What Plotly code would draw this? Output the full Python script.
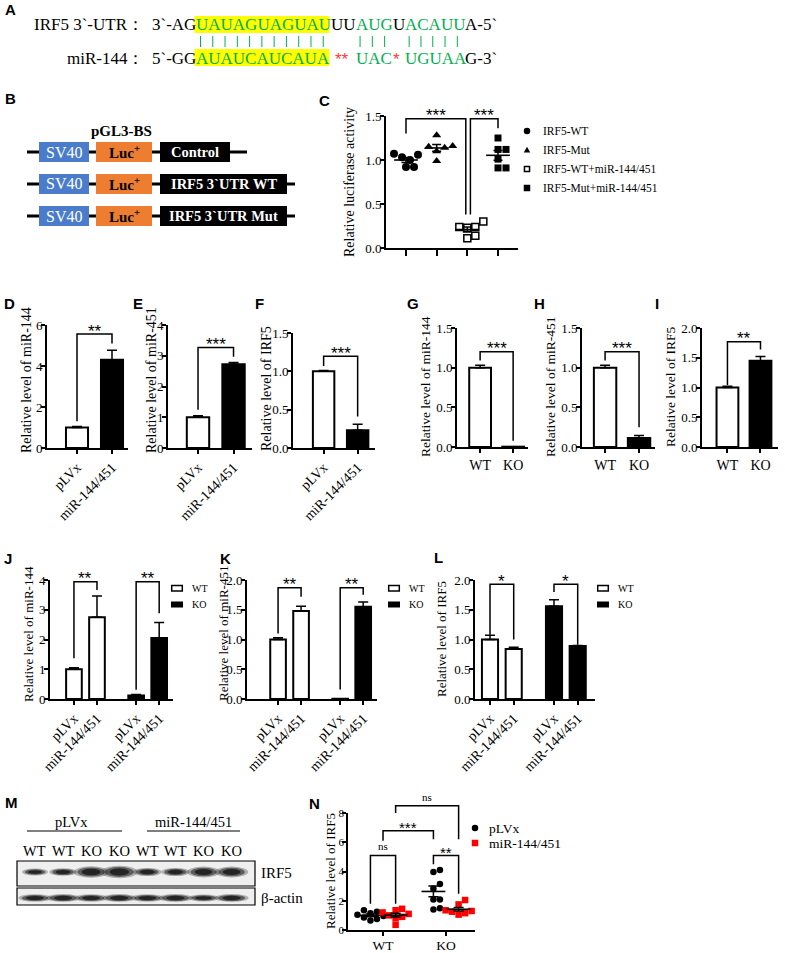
import plotly.graph_objects as go
import numpy as np

W, H = 785, 953
SERIF = "Liberation Serif"
SANS = "Liberation Sans"
GREEN = "#00B050"
RED = "#FF0000"
STAR_RED = "#FF3B3B"

# ---------------- data ----------------
# A: IRF5 3'-UTR / miR-144 pairing
utr_label = "IRF5 3`-UTR："
mir_label = "miR-144："
utr_segs = ["3`-AG", "UAUAGUAGUAU", "UU", "AUG", "U", "ACAUU", "A-5`"]
mir_segs = ["5`-GG", "AUAUCAUCAUA", "**", "UAC", "*", "UGUAA", "G-3`"]
utr_cols = ["black", GREEN, "black", GREEN, "black", GREEN, "black"]
mir_cols = ["black", GREEN, STAR_RED, GREEN, STAR_RED, GREEN, "black"]
seg_paired = [0, 1, 0, 1, 0, 1, 0]
seg_seed = [0, 1, 0, 0, 0, 0, 0]

# B: reporter constructs
construct_title = "pGL3-BS"
construct_names = ["Control", "IRF5 3`UTR WT", "IRF5 3`UTR Mut"]

# C: luciferase activity
luc_groups = ["IRF5-WT", "IRF5-Mut", "IRF5-WT+miR-144/451", "IRF5-Mut+miR-144/451"]
luc_wt = [1.03, 1.06, 1.07, 1.00, 0.92, 0.92]
luc_mut = [1.28, 1.15, 1.16, 1.14, 1.10, 0.99]
luc_wt_mir = [0.30, 0.24, 0.24, 0.23, 0.14, 0.11]
luc_mut_mir = [1.25, 1.12, 1.12, 1.01, 0.91, 0.91]

# D-F: overexpression
oe_labels = ["pLVx", "miR-144/451"]
d_mean, d_sem = [1.0, 4.3], [0.05, 0.47]
e_mean, e_sem = [1.0, 2.72], [0.05, 0.06]
f_mean, f_sem = [1.0, 0.23], [0.01, 0.08]

# G-I: knockout
ko_labels = ["WT", "KO"]
g_mean, g_sem = [1.0, 0.004], [0.03, 0.0]
h_mean, h_sem = [1.0, 0.115], [0.03, 0.03]
i_mean, i_sem = [1.0, 1.45], [0.02, 0.07]

# J-L: WT / KO x pLVx / miR-144/451
j_wt, j_wt_sem = [1.0, 2.75], [0.05, 0.71]
j_ko, j_ko_sem = [0.12, 2.05], [0.03, 0.52]
k_wt, k_wt_sem = [1.0, 1.48], [0.03, 0.08]
k_ko, k_ko_sem = [0.004, 1.55], [0.0, 0.08]
l_wt, l_wt_sem = [1.0, 0.84], [0.07, 0.03]
l_ko, l_ko_sem = [1.56, 0.89], [0.11, 0.01]

# M: western blot (relative band strength)
blot_treat = ["pLVx", "miR-144/451"]
blot_lanes = ["WT", "WT", "KO", "KO", "WT", "WT", "KO", "KO"]
irf5_band = [0.35, 0.45, 0.9, 1.0, 0.5, 0.5, 0.8, 0.8]
actin_band = [0.8, 0.85, 0.8, 0.85, 0.8, 0.85, 0.65, 0.85]

# N: IRF5 quantification
n_groups = ["WT", "KO"]
n_wt_plvx = [1.35, 1.25, 1.15, 1.05, 0.95, 0.85, 0.75, 0.65]
n_wt_mir = [1.45, 1.35, 1.2, 1.1, 1.0, 0.9, 0.8, 0.35]
n_ko_plvx = [4.1, 3.96, 3.15, 2.82, 2.08, 2.08, 1.48, 1.41]
n_ko_mir = [2.05, 1.75, 1.45, 1.35, 1.3, 1.25, 1.15, 1.05]

fig = go.Figure()

# panel boxes in pixels: x0,x1 (axis extent), yt,yb (top/bottom of y axis)
P = {
    'C': dict(x0=386, x1=518, yt=116, yb=248, xr=(-0.652, 3.652), yr=(0, 1.5), dt=0.5, fmt='.1f'),
    'D': dict(x0=47, x1=128, yt=325, yb=448, xr=(-0.857, 1.457), yr=(0, 6), dt=2, fmt='.0f'),
    'E': dict(x0=168, x1=252, yt=325, yb=448, xr=(-0.845, 1.52), yr=(0, 4), dt=1, fmt='.0f'),
    'F': dict(x0=293, x1=375, yt=333, yb=448, xr=(-0.9, 1.51), yr=(0, 1.5), dt=0.5, fmt='.1f'),
    'G': dict(x0=457, x1=528, yt=328, yb=447, xr=(-0.7, 1.45), yr=(0, 1.5), dt=0.5, fmt='.1f'),
    'H': dict(x0=582, x1=655, yt=328, yb=447, xr=(-0.68, 1.47), yr=(0, 1.5), dt=0.5, fmt='.1f'),
    'I': dict(x0=702, x1=778, yt=328, yb=447, xr=(-0.77, 1.53), yr=(0, 2.0), dt=0.5, fmt='.1f'),
    'J': dict(x0=50, x1=173, yt=580, yb=699, xr=(-1.04, 4.3), yr=(0, 4), dt=1, fmt='.0f'),
    'K': dict(x0=247, x1=377, yt=580, yb=699, xr=(-1.35, 4.3), yr=(0, 2.0), dt=0.5, fmt='.1f'),
    'L': dict(x0=475, x1=595, yt=580, yb=699, xr=(-0.633, 4.43), yr=(0, 2.0), dt=0.5, fmt='.1f'),
    'N': dict(x0=348, x1=475, yt=813, yb=930, xr=(-0.556, 1.46), yr=(0, 8), dt=2, fmt='.0f'),
    'M': dict(x0=17, x1=255, yt=861, yb=905, xr=(-0.64, 7.83), yr=(0, 44)),
}

for i, k in enumerate(P, start=1):
    c = P[k]
    c['id'] = '' if i == 1 else str(i)
    common = dict(showline=True, linecolor='black', linewidth=1.6, ticks='outside',
                  tickcolor='black', tickwidth=1.6, ticklen=4, showgrid=False,
                  zeroline=False, automargin=False, fixedrange=True,
                  tickfont=dict(family=SERIF, size=13, color='black'))
    xa = dict(common, domain=[c['x0'] / W, c['x1'] / W], range=list(c['xr']), anchor='y' + c['id'])
    ya = dict(common, domain=[1 - c['yb'] / H, 1 - c['yt'] / H], range=list(c['yr']), anchor='x' + c['id'],
              ticklabelstandoff=-4)
    if k == 'M':
        xa['visible'] = False
        ya['visible'] = False
    else:
        tv = np.arange(c['yr'][0], c['yr'][1] + c['dt'] / 2, c['dt'])
        ya['tickvals'] = tv
        ya['ticktext'] = [format(v, c['fmt']) for v in tv]
    fig.layout['xaxis' + c['id']] = xa
    fig.layout['yaxis' + c['id']] = ya


def to_px(k, xv, yv):
    c = P[k]
    x = c['x0'] + (xv - c['xr'][0]) / (c['xr'][1] - c['xr'][0]) * (c['x1'] - c['x0'])
    y = c['yb'] - (yv - c['yr'][0]) / (c['yr'][1] - c['yr'][0]) * (c['yb'] - c['yt'])
    return x, y


def text(px, py, s, size=13, color='black', family=SERIF, xanchor='center', yanchor='middle', angle=0):
    fig.add_annotation(x=px / W, y=1 - py / H, xref='paper', yref='paper', text=s, showarrow=False,
                       font=dict(family=family, size=size, color=color), xanchor=xanchor,
                       yanchor=yanchor, textangle=angle)


def rect(x0, x1, y0, y1, fill, lc=None, lw=0):
    fig.add_shape(type='rect', xref='paper', yref='paper', x0=x0 / W, x1=x1 / W, y0=1 - y1 / H,
                  y1=1 - y0 / H, fillcolor=fill, line=dict(color=lc or fill, width=lw))


def hline(x0, x1, y, lw=1.5, color='black'):
    fig.add_shape(type='line', xref='paper', yref='paper', x0=x0 / W, x1=x1 / W, y0=1 - y / H,
                  y1=1 - y / H, line=dict(color=color, width=lw))


def vline(x, y0, y1, lw=1.0, color='black'):
    fig.add_shape(type='line', xref='paper', yref='paper', x0=x / W, x1=x / W, y0=1 - y0 / H,
                  y1=1 - y1 / H, line=dict(color=color, width=lw))


def bracket(k, xa, xb, top, ya, yb, label, size=17, family=SANS, gap=3):
    ax_, ay = to_px(k, xa, ya)
    bx, by = to_px(k, xb, yb)
    _, ty = to_px(k, xa, top)
    pts = [(ax_, ay), (ax_, ty), (bx, ty), (bx, by)]
    path = 'M' + ' L'.join(f'{x / W:.5f},{1 - y / H:.5f}' for x, y in pts)
    fig.add_shape(type='path', path=path, xref='paper', yref='paper', line=dict(color='black', width=1.5))
    if family == SANS:
        text((ax_ + bx) / 2, ty - gap, label, size=size, family=SANS)
    else:
        text((ax_ + bx) / 2, ty - 1, label, size=size, family=family, yanchor='bottom')


def ytitle(px, py, s, size=14):
    text(px, py, s, size=size, angle=-90)


def bars(k, pos, mean, sem, fill, bw):
    c = P[k]
    fig.add_trace(go.Bar(
        x=pos, y=mean, width=bw,
        marker=dict(color=fill, line=dict(color='black', width=2)),
        error_y=dict(type='data', array=sem, arrayminus=[0] * len(sem), symmetric=False,
                     color='black', thickness=1.5, width=5),
        xaxis='x' + c['id'], yaxis='y' + c['id'], showlegend=False, hoverinfo='skip'))


def xticks(k, vals, labels, angle=0, size=14, ticklen=4):
    fig.layout['xaxis' + P[k]['id']].update(tickvals=vals, ticktext=labels, tickangle=angle,
                                             tickfont=dict(family=SERIF, size=size, color='black'),
                                             ticklen=ticklen)


def swarm(k, vals, d):
    c = P[k]
    ux = (c['x1'] - c['x0']) / (c['xr'][1] - c['xr'][0])
    uy = (c['yb'] - c['yt']) / (c['yr'][1] - c['yr'][0])
    steps = [0.0]
    for s in range(1, 10):
        steps += [s * d / 2, -s * d / 2]
    placed, out = [], np.zeros(len(vals))
    for i in np.argsort(vals):
        yp = vals[i] * uy
        for dx in steps:
            if all((dx - px) ** 2 + (yp - py) ** 2 >= d * d * 0.95 for px, py in placed):
                placed.append((dx, yp))
                out[i] = dx / ux
                break
    return out


def dots(k, xc, vals, symbol, size, color, d, mean_w, cap):
    c = P[k]
    lw = 1.5 if symbol.endswith('open') else 0
    fig.add_trace(go.Scatter(
        x=xc + swarm(k, vals, d), y=vals, mode='markers',
        marker=dict(symbol=symbol, size=size, color=color, line=dict(color=color, width=lw)),
        xaxis='x' + c['id'], yaxis='y' + c['id'], showlegend=False, hoverinfo='skip', cliponaxis=False))
    v = np.array(vals)
    fig.add_trace(go.Scatter(
        x=[xc], y=[v.mean()], mode='markers',
        marker=dict(symbol='line-ew', size=mean_w, color='black', line=dict(color='black', width=1.6)),
        error_y=dict(type='data', array=[v.std(ddof=1) / np.sqrt(len(v))], color='black',
                     thickness=1.5, width=cap),
        xaxis='x' + c['id'], yaxis='y' + c['id'], showlegend=False, hoverinfo='skip'))


def marker_shape(px, py, kind, s, color='black'):
    r = s / 2
    if kind == 'circle':
        fig.add_shape(type='circle', xref='paper', yref='paper', x0=(px - r) / W, x1=(px + r) / W,
                      y0=1 - (py + r) / H, y1=1 - (py - r) / H, fillcolor=color, line=dict(width=0))
    elif kind == 'triangle':
        pts = [(px - r, py + r * 0.8), (px + r, py + r * 0.8), (px, py - r)]
        path = 'M' + ' L'.join(f'{x / W:.5f},{1 - y / H:.5f}' for x, y in pts) + ' Z'
        fig.add_shape(type='path', path=path, xref='paper', yref='paper', fillcolor=color, line=dict(width=0))
    elif kind == 'square-open':
        rect(px - r + 0.7, px + r - 0.7, py - r + 0.7, py + r - 0.7, 'white', color, 1.5)
    else:
        rect(px - r, px + r, py - r, py + r, color)


# ---------------- panel letters ----------------
for lab, (lx, ly) in {'A': (3, 9), 'B': (3, 98), 'C': (317, 100), 'D': (2, 303), 'E': (131, 303),
                      'F': (253, 303), 'G': (405, 303), 'H': (532, 303), 'I': (653, 303),
                      'J': (2, 558), 'K': (218, 558), 'L': (432, 557), 'M': (3, 802),
                      'N': (307, 803)}.items():
    text(lx, ly, '<b>' + lab + '</b>', size=15, family=SANS, xanchor='left')

# ---------------- A ----------------
TW = {'U': 722, 'A': 722, 'G': 722, 'C': 667, '3': 500, '5': 500, '`': 333, '-': 333, '*': 500}
A_FS, A_X, A_Y1, A_Y2 = 17, 150, 25, 58


def tw(s):
    return sum(TW[ch] for ch in s) / 1000 * A_FS


starts, x = [], A_X
for s in utr_segs:
    starts.append(x)
    x += tw(s)

text(A_X - 4, A_Y1, utr_label, size=A_FS, xanchor='right')
text(A_X - 4, A_Y2, mir_label, size=A_FS, xanchor='right')
for si, s in enumerate(utr_segs):
    if seg_seed[si]:
        rect(starts[si], starts[si] + tw(s), A_Y1 - 9, A_Y1 + 8, '#FFFF00')
        rect(starts[si], starts[si] + tw(s), A_Y2 - 9, A_Y2 + 8, '#FFFF00')
for si, s in enumerate(utr_segs):
    text(starts[si], A_Y1, s, size=A_FS, color=utr_cols[si], xanchor='left')
    m = mir_segs[si]
    if '*' in m:
        text(starts[si] + tw(s) / 2, A_Y2 + 2, m, size=A_FS, color=mir_cols[si], family=SANS)
    else:
        text(starts[si], A_Y2, m, size=A_FS, color=mir_cols[si], xanchor='left')
    if seg_paired[si]:
        for ci, ch in enumerate(s):
            cx = starts[si] + tw(s[:ci]) + tw(ch) / 2
            vline(cx, A_Y1 + 11, A_Y2 - 11, lw=1, color=GREEN)

# ---------------- B ----------------
text(121, 131, '<b>' + construct_title + '</b>', size=15)
rows_y = [152, 184, 216]
line_end = [247, 295, 295]
box_end = [230, 287, 287]
for r, name in enumerate(construct_names):
    y = rows_y[r]
    hline(27, line_end[r], y, lw=3)
    rect(39, 89, y - 10, y + 10, '#4A7CCB')
    text(64, y, 'SV40', size=16, color='white')
    rect(96, 152, y - 10, y + 10, '#ED7D31')
    text(124, y, '<b>Luc<sup>+</sup></b>', size=15)
    rect(160, box_end[r], y - 10, y + 10, 'black')
    text((160 + box_end[r]) / 2, y, '<b>' + name + '</b>', size=14.5, color='white')

# ---------------- C ----------------
luc_sets = [luc_wt, luc_mut, luc_wt_mir, luc_mut_mir]
luc_syms = ['circle', 'triangle-up', 'square-open', 'square']
for gi, vals in enumerate(luc_sets):
    dots('C', gi, vals, luc_syms[gi], 8 if gi < 2 else 7, 'black', 8, 17, 4.5)
fig.layout['xaxis' + P['C']['id']].update(tickvals=list(range(4)), showticklabels=False, ticklen=6)
bracket('C', 0, 1.95, 1.47, 1.30, 0.38, '***')
bracket('C', 2.1, 3, 1.47, 0.38, 1.36, '***')
ytitle(349, 182, 'Relative luciferase activity', size=14)
for li, (kind, name) in enumerate(zip(['circle', 'triangle', 'square-open', 'square'], luc_groups)):
    ly = 131 + 19 * li
    marker_shape(527, ly, kind, 6.5)
    text(541, ly, name, size=11.5, xanchor='left')

# ---------------- D-F ----------------
for k, mean, sem, ttl, tx, ty in [('D', d_mean, d_sem, 'Relative level of miR-144', 26, 380),
                                  ('E', e_mean, e_sem, 'Relative level of miR-451', 151, 380),
                                  ('F', f_mean, f_sem, 'Relative level of IRF5', 266, 389)]:
    bars(k, [0, 1], mean, sem, ['white', 'black'], 0.63)
    xticks(k, [0, 1], oe_labels, angle=-45, size=14)
    ytitle(tx, ty, ttl, size=14)
bracket('D', 0, 1, 5.56, 1.3, 5.1, '**')
bracket('E', 0, 1, 3.27, 1.24, 2.97, '***')
bracket('F', 0, 1, 1.196, 1.07, 0.41, '***')

# ---------------- G-I ----------------
for k, mean, sem, ttl, tx in [('G', g_mean, g_sem, 'Relative level of miR-144', 425),
                              ('H', h_mean, h_sem, 'Relative level of miR-451', 550),
                              ('I', i_mean, i_sem, 'Relative level of IRF5', 670)]:
    bars(k, [0, 1], mean, sem, ['white', 'black'], 0.66)
    xticks(k, [0, 1], ko_labels, size=14, ticklen=4)
    ytitle(tx, 387, ttl, size=13.5)
bracket('G', 0, 1, 1.20, 1.09, 0.08, '***')
bracket('H', 0, 1, 1.20, 1.09, 0.25, '***')
bracket('I', 0, 1, 1.77, 1.04, 1.64, '**')

# ---------------- J-L ----------------
GROUP_SHIFT = 2.7
for k, wt, wts, ko, kos, ttl, tx, ty in [
        ('J', j_wt, j_wt_sem, j_ko, j_ko_sem, 'Relative level of miR-144', 28, 634),
        ('K', k_wt, k_wt_sem, k_ko, k_ko_sem, 'Relative level of miR-451', 223, 634),
        ('L', l_wt, l_wt_sem, l_ko, l_ko_sem, 'Relative level of IRF5', 441, 639)]:
    bars(k, [0, 1], wt, wts, 'white', 0.68)
    bars(k, [GROUP_SHIFT, GROUP_SHIFT + 1], ko, kos, 'black', 0.68)
    xticks(k, [0, 1, GROUP_SHIFT, GROUP_SHIFT + 1], oe_labels * 2, angle=-45, size=14)
    ytitle(tx, ty, ttl, size=13)
bracket('J', 0, 1, 3.94, 1.37, 3.66, '**')
bracket('J', GROUP_SHIFT, GROUP_SHIFT + 1, 3.94, 0.31, 2.88, '**')
bracket('K', 0, 1, 1.87, 1.10, 1.72, '**')
bracket('K', GROUP_SHIFT, GROUP_SHIFT + 1, 1.87, 0.16, 1.75, '**')
bracket('L', 0, 1, 1.93, 1.08, 1.00, '*')
bracket('L', GROUP_SHIFT, GROUP_SHIFT + 1, 1.93, 1.80, 0.91, '*')
for lx in [171, 388, 597]:
    rect(lx + 0.7, lx + 11.3, 585.5, 591, 'white', 'black', 1.5)
    rect(lx, lx + 12, 601.5, 607.5, 'black')
    text(lx + 19, 588, 'WT', size=10, xanchor='left')
    text(lx + 19, 604, 'KO', size=10, xanchor='left')

# ---------------- M ----------------
cM = P['M']
text(71, 822, blot_treat[0], size=14.5)
text(193, 822, blot_treat[1], size=14.5)
hline(27, 122, 831, lw=1.2)
hline(147, 240, 831, lw=1.2)
lane_px = [to_px('M', li, 0)[0] for li in range(len(blot_lanes))]
for lp, lab in zip(lane_px, blot_lanes):
    text(lp, 851, lab, size=14.5)
rect(17, 255, 861, 886, '#efefef', 'black', 1.2)
rect(17, 255, 888, 905, '#efefef', 'black', 1.2)
for row_y, inten, hbase, hgain in [(33, irf5_band, 1.6, 3.6), (7, actin_band, 1.4, 2.2)]:
    for li, v in enumerate(inten):
        hw = 0.3 + 0.24 * v
        hh = hbase + hgain * v
        for sc, op in [(1.2, 0.3), (0.95, 0.55), (0.65, 0.85)]:
            fig.add_shape(type='circle', xref='x' + cM['id'], yref='y' + cM['id'],
                          x0=li - hw * sc, x1=li + hw * sc, y0=row_y - hh * sc, y1=row_y + hh * sc,
                          fillcolor='#1a1a1a', opacity=op, line=dict(width=0))
text(259, 873, 'IRF5', size=15, xanchor='left')
text(259, 898, 'β-actin', size=15, xanchor='left')

# ---------------- N ----------------
OFF = 0.2
dots('N', 0 - OFF, n_wt_plvx, 'circle', 6.5, 'black', 6.5, 17, 5)
dots('N', 0 + OFF, n_wt_mir, 'square', 6.5, RED, 6.5, 17, 5)
dots('N', 1 - OFF, n_ko_plvx, 'circle', 6.5, 'black', 6.5, 17, 5)
dots('N', 1 + OFF, n_ko_mir, 'square', 6.5, RED, 6.5, 17, 5)
xticks('N', [0, 1], n_groups, size=13.5, ticklen=4)
fig.layout['xaxis' + P['N']['id']].ticklabelstandoff = -2
fig.layout['yaxis' + P['N']['id']].tickfont.size = 11
ytitle(330, 871, 'Relative level of IRF5', size=13)
bracket('N', -OFF, OFF, 5.1, 1.8, 1.8, 'ns', size=11, family=SERIF)
bracket('N', 0, 1 - OFF, 6.78, 6.1, 6.2, '***', size=15)
bracket('N', 1 - OFF, 1 + OFF, 5.1, 4.5, 2.48, '**', size=15)
bracket('N', OFF, 1 + OFF, 8.5, 8.0, 6.2, 'ns', size=11, family=SERIF)
marker_shape(475, 828, 'circle', 6.5)
marker_shape(475, 843, 'square', 6.5, RED)
text(487, 828, 'pLVx', size=13.5, xanchor='left')
text(487, 843, 'miR-144/451', size=13.5, xanchor='left')

fig.update_layout(width=W, height=H, margin=dict(l=0, r=0, t=0, b=0),
                  paper_bgcolor='white', plot_bgcolor='rgba(0,0,0,0)', showlegend=False)
fig.write_html("out.html", config={'displayModeBar': False},
               post_script="document.body.style.margin='0px';")
